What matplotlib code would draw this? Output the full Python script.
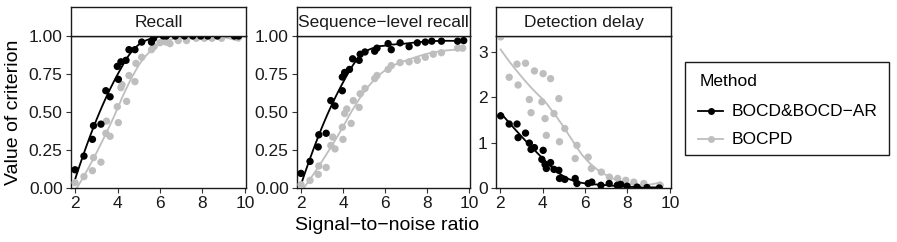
import numpy as np
import matplotlib
matplotlib.use("Agg")
import matplotlib.pyplot as plt
from matplotlib.lines import Line2D
from matplotlib.patches import Rectangle

plt.rcParams['font.family'] = ['Liberation Sans', 'DejaVu Sans']

# ---- data ----
recall_bocd_x = [2.0, 2.42, 2.82, 2.87, 3.22, 3.45, 3.65, 3.99, 4.04, 4.16, 4.4, 4.54, 4.82,
                 5.14, 5.6, 5.7, 6.15, 6.3, 6.72, 7.15, 7.54, 7.92, 8.25, 8.7, 9.5, 9.7]
recall_bocd_y = [0.12, 0.21, 0.32, 0.41, 0.42, 0.64, 0.60, 0.80, 0.715, 0.83, 0.84, 0.91, 0.91,
                 0.96, 0.96, 0.985, 1.0, 1.0, 1.0, 1.0, 1.0, 1.0, 1.0, 1.0, 1.0, 1.0]
recall_bocpd_x = [2.0, 2.42, 2.82, 2.87, 3.22, 3.45, 3.48, 3.65, 3.99, 4.04, 4.16, 4.21, 4.43,
                  4.54, 4.82, 4.87, 5.14, 5.6, 5.72, 6.0, 6.28, 6.47, 6.86, 7.25, 7.71, 8.09,
                  8.45, 8.9, 9.7]
recall_bocpd_y = [0.035, 0.075, 0.114, 0.20, 0.17, 0.36, 0.44, 0.34, 0.535, 0.43, 0.66, 0.68, 0.57,
                  0.74, 0.70, 0.82, 0.86, 0.91, 0.93, 0.956, 0.96, 0.95, 0.97, 0.97, 0.985, 0.985,
                  0.985, 0.985, 0.99]

seq_bocd_x = [2.0, 2.43, 2.82, 2.85, 3.2, 3.42, 3.62, 3.97, 3.97, 4.08, 4.31, 4.46, 4.77, 4.82,
              5.05, 5.51, 5.62, 6.15, 6.3, 6.72, 7.15, 7.54, 7.92, 8.23, 8.69, 9.46, 9.75]
seq_bocd_y = [0.096, 0.175, 0.27, 0.35, 0.36, 0.575, 0.54, 0.64, 0.73, 0.76, 0.78, 0.85, 0.84, 0.88,
              0.895, 0.90, 0.92, 0.95, 0.91, 0.955, 0.93, 0.955, 0.96, 0.966, 0.966, 0.966, 0.97]
seq_bocpd_x = [2.0, 2.43, 2.82, 2.85, 3.2, 3.42, 3.51, 3.62, 3.97, 4.0, 4.08, 4.18, 4.39, 4.49,
               4.77, 4.82, 5.05, 5.51, 5.62, 6.15, 6.3, 6.72, 7.15, 7.54, 7.92, 8.3, 8.69, 9.46, 9.7]
seq_bocpd_y = [0.022, 0.05, 0.09, 0.145, 0.135, 0.28, 0.335, 0.257, 0.40, 0.32, 0.49, 0.52, 0.425,
               0.575, 0.53, 0.62, 0.655, 0.72, 0.74, 0.78, 0.805, 0.825, 0.83, 0.84, 0.86, 0.88,
               0.89, 0.92, 0.92]

delay_bocd_x = [2.03, 2.43, 2.8, 2.85, 3.2, 3.38, 3.46, 3.62, 3.97, 4.03, 4.12, 4.18, 4.38, 4.54,
                4.77, 4.8, 5.05, 5.54, 5.62, 6.15, 6.32, 6.75, 7.14, 7.52, 7.68, 7.98, 8.45, 8.92, 9.5]
delay_bocd_y = [1.59, 1.41, 1.41, 1.11, 1.21, 0.99, 0.85, 0.89, 0.63, 0.83, 0.52, 0.43, 0.56, 0.41,
                0.39, 0.21, 0.19, 0.21, 0.10, 0.10, 0.13, 0.06, 0.10, 0.06, 0.08, 0.04, 0.02, 0.01, 0.0]
delay_bocpd_x = [2.03, 2.43, 2.8, 2.85, 3.2, 3.38, 3.46, 3.62, 3.97, 4.03, 4.12, 4.18, 4.38, 4.54,
                 4.77, 4.8, 5.05, 5.54, 5.62, 6.15, 6.3, 6.77, 7.15, 7.54, 7.92, 8.3, 8.77, 9.54]
delay_bocpd_y = [3.33, 2.44, 2.73, 2.27, 2.75, 1.95, 1.66, 2.58, 1.90, 2.52, 1.53, 1.16, 2.41, 1.64,
                 1.97, 1.02, 1.31, 0.65, 0.94, 0.68, 0.43, 0.35, 0.24, 0.21, 0.17, 0.13, 0.10, 0.06]

titles = ["Recall", "Sequence\u2212level recall", "Detection delay"]
methods = ["BOCD&BOCD\u2212AR", "BOCPD"]
colors = ["black", "#BEBEBE"]


def loess(x, y, span=0.75, n=80):
    # local quadratic fit with tricube weights (like geom_smooth's default)
    x = np.asarray(x, float)
    y = np.asarray(y, float)
    k = int(np.ceil(span * len(x)))
    grid = np.linspace(x.min(), x.max(), n)
    out = []
    for g in grid:
        d = np.abs(x - g)
        h = np.sort(d)[k - 1]
        w = np.clip(1 - (d / h) ** 3, 0, None) ** 3
        A = np.vstack([np.ones_like(x), x - g, (x - g) ** 2]).T
        W = np.sqrt(w)
        coef = np.linalg.lstsq(A * W[:, None], y * W, rcond=None)[0]
        out.append(coef[0])
    return grid, np.array(out)


panels = [
    [(recall_bocd_x, recall_bocd_y), (recall_bocpd_x, recall_bocpd_y)],
    [(seq_bocd_x, seq_bocd_y), (seq_bocpd_x, seq_bocpd_y)],
    [(delay_bocd_x, delay_bocd_y), (delay_bocpd_x, delay_bocpd_y)],
]

W, H = 897, 242
fig = plt.figure(figsize=(W / 100, H / 100), dpi=100)

lefts = [71, 297, 496]
rights = [246, 470, 671]
top, bottom, strip_top = 36, 188, 7
ylims = [(0, 1), (0, 1), (0, 3.35)]
yticks = [[0, 0.25, 0.5, 0.75, 1.0], [0, 0.25, 0.5, 0.75, 1.0], [0, 1, 2, 3]]
ylabels = [["0.00", "0.25", "0.50", "0.75", "1.00"]] * 2 + [["0", "1", "2", "3"]]

for i in range(3):
    ax = fig.add_axes([lefts[i] / W, 1 - bottom / H, (rights[i] - lefts[i]) / W, (bottom - top) / H])
    # gray first, black on top
    for j in [1, 0]:
        xs, ys = panels[i][j]
        gx, gy = loess(xs, ys)
        ax.plot(gx, gy, color=colors[j], lw=1.3, zorder=2)
        ax.scatter(xs, ys, s=28, color=colors[j], edgecolors='none', zorder=3)
    ax.set_xlim(1.81, 10.05)
    ax.set_ylim(*ylims[i])
    ax.set_xticks([2, 4, 6, 8, 10])
    ax.set_yticks(yticks[i])
    ax.set_yticklabels(ylabels[i])
    ax.tick_params(labelsize=12.5, length=3.5, width=0.8, color='#333333', pad=2.5, labelcolor='#1a1a1a')
    for s in ax.spines.values():
        s.set_linewidth(1.0)
        s.set_color('#1a1a1a')
    # facet strip
    sax = fig.add_axes([lefts[i] / W, 1 - top / H, (rights[i] - lefts[i]) / W, (top - strip_top) / H])
    sax.set_xticks([])
    sax.set_yticks([])
    for s in sax.spines.values():
        s.set_linewidth(1.0)
        s.set_color('#1a1a1a')
    sax.text(0.5, 0.45, titles[i], ha='center', va='center', fontsize=12.5, color='#1a1a1a',
             transform=sax.transAxes)

fig.text(387 / W, 1 - 230.5 / H, "Signal\u2212to\u2212noise ratio", ha='center', va='baseline', fontsize=14)
fig.text(14 / W, 1 - 112 / H, "Value of criterion", ha='center', va='center', rotation=90, fontsize=14)

# legend
fig.patches.append(Rectangle((685 / W, 1 - 155 / H), (889 - 685) / W, (155 - 62) / H,
                             transform=fig.transFigure, fill=False, edgecolor='#1a1a1a', lw=1.0))
fig.text(700 / W, 1 - 82 / H, "Method", ha='left', va='center', fontsize=12.5)
for k, yk in enumerate([111, 139]):
    fig.lines.append(Line2D([698 / W, 723 / W], [1 - yk / H, 1 - yk / H], transform=fig.transFigure,
                            color=colors[k], lw=1.3))
    fig.lines.append(Line2D([710.5 / W], [1 - yk / H], transform=fig.transFigure, marker='o',
                            markersize=5, color=colors[k], markeredgewidth=0))
    fig.text(732 / W, 1 - yk / H, methods[k], ha='left', va='center', fontsize=12.5)

fig.savefig("out.png", dpi=100)
